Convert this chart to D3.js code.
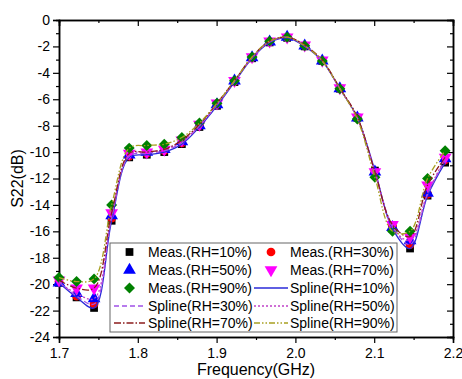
<!DOCTYPE html>
<html><head><meta charset="utf-8">
<script src="https://cdn.jsdelivr.net/npm/d3@7"></script>
<style>body{margin:0;background:#fff}svg{display:block;font-family:"Liberation Sans",Arial,sans-serif}</style>
</head><body><svg id="c" width="462" height="379"></svg>
<script>
const freqs = [1.7,1.7223,1.7445,1.7668,1.7891,1.8114,1.8336,1.8559,1.8782,1.9005,1.9227,1.945,1.9673,1.9895,2.0118,2.0341,2.0564,2.0786,2.1009,2.1232,2.1455,2.1677,2.19];
const rh10 = [-19.9,-21.0,-21.8,-15.2,-10.4,-10.2,-10.0,-9.4,-8.1,-6.5,-4.7,-2.9,-1.7,-1.35,-2.0,-3.1,-5.2,-7.4,-11.4,-15.8,-17.3,-13.3,-10.8];
const rh30 = [-19.8,-20.9,-21.5,-15.0,-10.3,-10.1,-9.9,-9.3,-8.0,-6.4,-4.65,-2.85,-1.65,-1.3,-1.95,-3.1,-5.2,-7.4,-11.5,-15.6,-17.0,-13.2,-10.6];
const rh50 = [-19.9,-20.7,-21.1,-14.8,-10.2,-10.0,-9.8,-9.2,-8.0,-6.4,-4.6,-2.85,-1.65,-1.3,-1.95,-3.1,-5.2,-7.4,-11.5,-15.7,-16.7,-13.1,-10.5];
const rh70 = [-19.7,-20.3,-20.3,-14.6,-10.1,-10.0,-9.8,-9.1,-7.9,-6.3,-4.6,-2.8,-1.6,-1.3,-1.9,-3.05,-5.15,-7.35,-11.5,-15.5,-16.4,-12.5,-10.4];
const rh90 = [-19.5,-19.8,-19.6,-14.0,-9.7,-9.5,-9.4,-8.9,-7.8,-6.3,-4.6,-2.8,-1.6,-1.3,-1.95,-3.1,-5.2,-7.5,-11.9,-16.0,-16.0,-12.0,-9.9];
const humidities = ["10%","30%","50%","70%","90%"];
const xTicks = [1.7,1.8,1.9,2.0,2.1,2.2];
const xMinor = [1.75,1.85,1.95,2.05,2.15];
const yTicks = [-24,-22,-20,-18,-16,-14,-12,-10,-8,-6,-4,-2,0];
const yMinor = [-23,-21,-19,-17,-15,-13,-11,-9,-7,-5,-3,-1];

const seriesData = [rh10, rh30, rh50, rh70, rh90];
const markColors = ["#000000","#ff0000","#0000ff","#ff00ff","#008000"];
const markShapes = [d3.symbolSquare, d3.symbolCircle, d3.symbolTriangle, d3.symbolTriangle, d3.symbolSquare];
const markSizes = [60, 60, 70, 70, 60];
const markRot = [0,0,0,180,45];
const lineColors = ["#2a2ad8","#a050e8","#c040c8","#8c1c1c","#a8a020"];
const lineDash = [null,"5,3","2,2","7,2,1.5,2","6,2,1.5,2,1.5,2"];

const svg = d3.select("#c");
const L=59, R=453, T=20, B=337;
const x = d3.scaleLinear().domain([1.7,2.2]).range([L,R]);
const y = d3.scaleLinear().domain([-24,0]).range([B,T]);

function styleAxis(g){ g.select(".domain").attr("stroke","#000").attr("stroke-width",1.5);
  g.selectAll(".tick line").attr("stroke","#000").attr("stroke-width",1.2);
  g.selectAll("text").attr("font-size",14).attr("fill","#000").attr("font-family","Liberation Sans, Arial, sans-serif"); }
svg.append("g").attr("transform",`translate(0,${B})`).call(d3.axisBottom(x).tickValues(xTicks).tickSize(6).tickPadding(5).tickFormat(d3.format(".1f"))).call(styleAxis);
svg.append("g").attr("transform",`translate(0,${B})`).call(d3.axisBottom(x).tickValues(xMinor).tickSize(3).tickFormat("")).call(styleAxis);
svg.append("g").attr("transform",`translate(0,${T})`).call(d3.axisTop(x).tickValues(xTicks).tickSize(-6).tickFormat("")).call(styleAxis);
svg.append("g").attr("transform",`translate(0,${T})`).call(d3.axisTop(x).tickValues(xMinor).tickSize(-3).tickFormat("")).call(styleAxis);
svg.append("g").attr("transform",`translate(${L},0)`).call(d3.axisLeft(y).tickValues(yTicks).tickSize(6).tickPadding(3).tickFormat(d=>String(d))).call(styleAxis);
svg.append("g").attr("transform",`translate(${L},0)`).call(d3.axisLeft(y).tickValues(yMinor).tickSize(3).tickFormat("")).call(styleAxis);
svg.append("g").attr("transform",`translate(${R},0)`).call(d3.axisRight(y).tickValues(yTicks).tickSize(-6).tickFormat("")).call(styleAxis);
svg.append("g").attr("transform",`translate(${R},0)`).call(d3.axisRight(y).tickValues(yMinor).tickSize(-3).tickFormat("")).call(styleAxis);

seriesData.forEach((s,i)=>{
  svg.append("g").selectAll("path").data(s).join("path")
    .attr("d", d3.symbol().type(markShapes[i]).size(markSizes[i]))
    .attr("transform",(d,j)=>`translate(${x(freqs[j])},${y(d)}) rotate(${markRot[i]})`)
    .attr("fill",markColors[i]);
});
const line = d3.line().x((d,j)=>x(freqs[j])).y(d=>y(d)).curve(d3.curveCatmullRom.alpha(0.5));
seriesData.forEach((s,i)=>{
  svg.append("path").attr("d",line(s)).attr("fill","none").attr("stroke",lineColors[i])
    .attr("stroke-width",1.3).attr("stroke-dasharray",lineDash[i]);
});

svg.append("text").attr("x",(L+R)/2).attr("y",375).attr("text-anchor","middle").attr("font-size",16).text("Frequency(GHz)");
svg.append("text").attr("transform",`translate(23,${(T+B)/2}) rotate(-90)`).attr("text-anchor","middle").attr("font-size",16).text("S22(dB)");

const lg = svg.append("g");
lg.append("rect").attr("x",110).attr("y",243).attr("width",287).attr("height",89).attr("fill","#fff").attr("stroke","#666").attr("stroke-width",1);
const entries = [];
humidities.forEach((h,i)=>entries.push({type:"m",i,label:`Meas.(RH=${h})`}));
humidities.forEach((h,i)=>entries.push({type:"s",i,label:`Spline(RH=${h})`}));
const rowY = [252,270,288,306,323];
entries.forEach((e,k)=>{
  const col = k%2, row = Math.floor(k/2);
  const cy = rowY[row];
  const x0 = col===0?114:254, x1 = col===0?145:288, tx = col===0?148:290;
  if(e.type==="m"){
    lg.append("path").attr("d",d3.symbol().type(markShapes[e.i]).size(markSizes[e.i]))
      .attr("transform",`translate(${(x0+x1)/2},${cy}) rotate(${markRot[e.i]})`).attr("fill",markColors[e.i]);
  } else {
    lg.append("line").attr("x1",x0).attr("x2",x1).attr("y1",cy).attr("y2",cy)
      .attr("stroke",lineColors[e.i]).attr("stroke-width",1.3).attr("stroke-dasharray",lineDash[e.i]);
  }
  lg.append("text").attr("x",tx).attr("y",cy+5).attr("font-size",14).text(e.label);
});
</script></body></html>
